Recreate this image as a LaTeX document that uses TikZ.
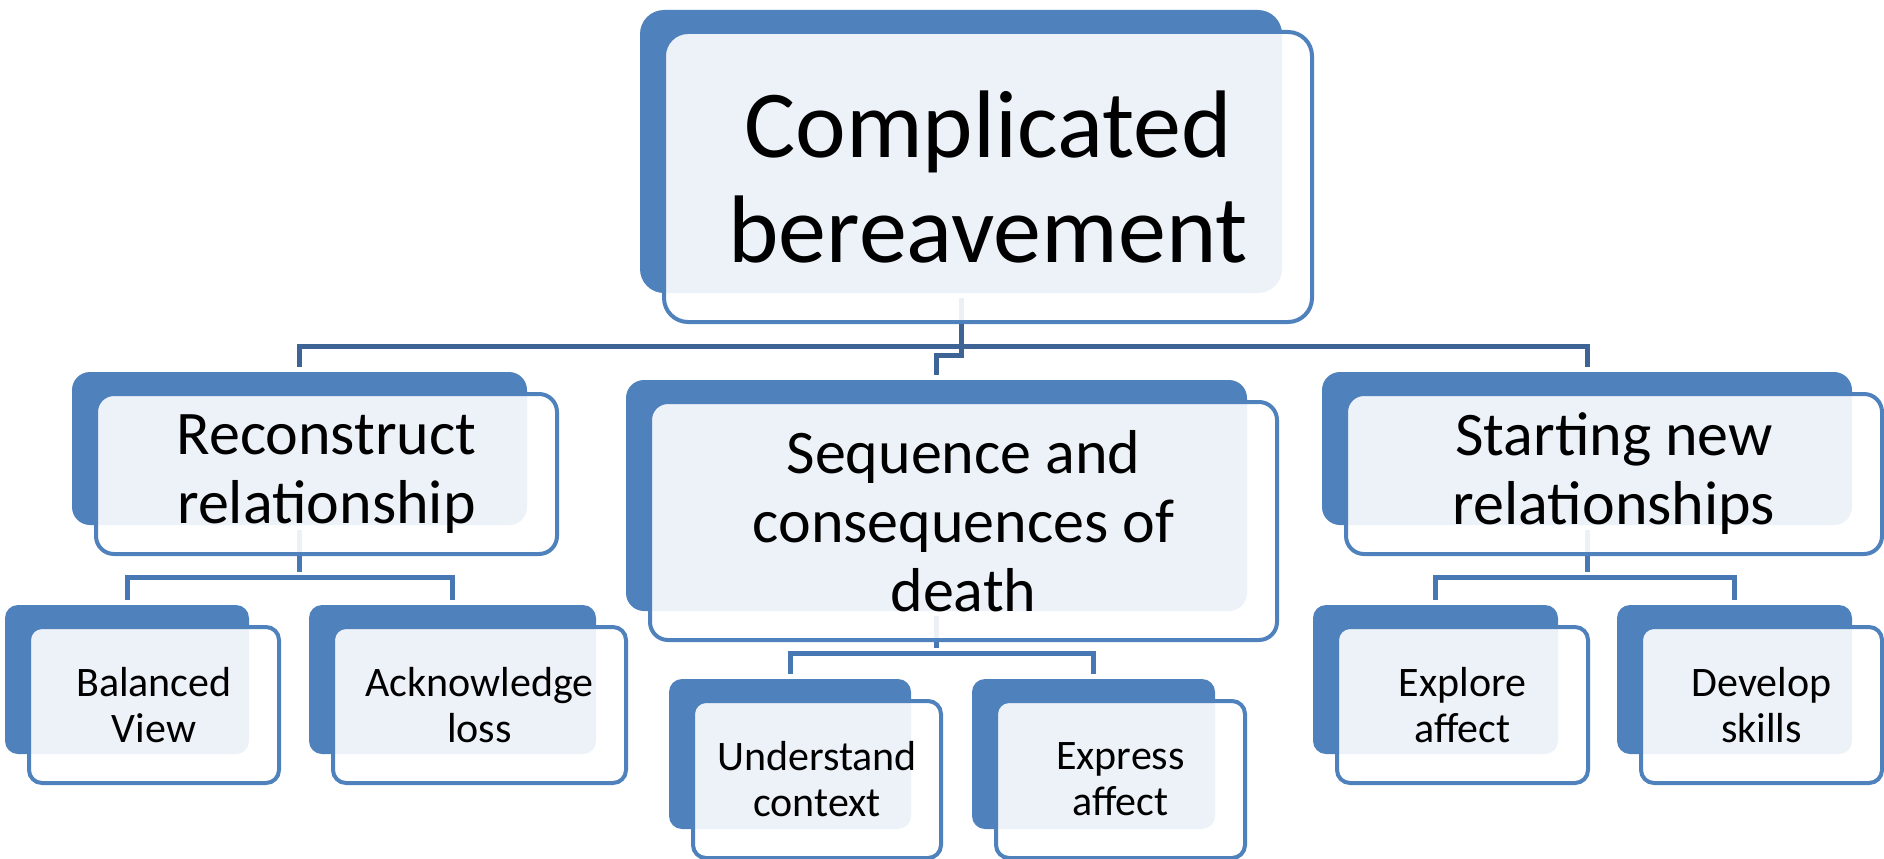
\documentclass[tikz,border=0pt]{standalone}
\usepackage{fontspec}
\setmainfont{Carlito}
\usetikzlibrary{backgrounds}

\definecolor{cardblue}{RGB}{79,129,189}
\definecolor{trunkblue}{RGB}{62,100,150}
\definecolor{linkblue}{RGB}{72,120,180}

\begin{document}
\begin{tikzpicture}[
  x=1pt, y=-1pt,
  back/.style={fill=cardblue, inner sep=0pt},
  card/.style={draw=cardblue, line width=4pt, fill=white, fill opacity=0.9, text opacity=1, align=center, inner sep=0pt},
  lvl0/.style={rounded corners=24pt, font=\fontsize{96}{105}\selectfont},
  lvl1/.style={rounded corners=18pt, font=\fontsize{62}{69}\selectfont},
  lvl2/.style={rounded corners=13pt, font=\fontsize{42}{46}\selectfont},
  trunk/.style={draw=trunkblue, line width=5pt, shorten <=5pt, shorten >=5pt},
  link/.style={draw=linkblue, line width=5pt, shorten <=5pt, shorten >=5pt}
]
\useasboundingbox (0,0) rectangle (1884,859);
% cards: blue block behind, pale framed box in front
\foreach \n/\cx/\cy/\w/\h/\lv/\txt in {
  top/988/177/648/290/lvl0/Complicated\\bereavement,
  rec/326.5/474/461/160/lvl1/Reconstruct\\relationship,
  seq/963.5/521/627/238/lvl1/Sequence and\\consequences of\\death,
  new/1614/474/536/160/lvl1/Starting new\\relationships,
  bal/154/705/250/156/lvl2/Balanced\\View,
  ack/479.5/705/293/156/lvl2/Acknowledge\\loss,
  und/817/779.5/248/157/lvl2/Understand\\context,
  exa/1120.5/779.5/249/157/lvl2/Express\\affect,
  exp/1462.5/705/251/156/lvl2/Explore\\affect,
  dev/1761.5/705/241/156/lvl2/Develop\\skills}
{
  \node[back, \lv, minimum width=(\w-6)*1pt, minimum height=(\h-7)*1pt] (\n-b) at (\cx-27, \cy-25.5) {};
  \node[card, \lv, minimum width=\w*1pt, minimum height=\h*1pt] (\n) at (\cx, \cy) {\txt};
}
% connectors go behind the cards
\begin{scope}[on background layer]
  \coordinate (bus0) at (0,346);
  \coordinate (busL) at (0,577);
  \coordinate (busM) at (0,653);
  \draw[trunk] (rec-b) -- (rec-b |- bus0) -| (new-b);
  \draw[trunk] (top-b) -- ([yshift=-9pt]top-b |- bus0) -| (seq-b);
  % second level
  \draw[link] (rec-b) -- (rec-b |- busL);
  \draw[link] (bal-b) -- (bal-b |- busL) -| (ack-b);
  \draw[link] (seq-b) -- (seq-b |- busM);
  \draw[link] (und-b) -- (und-b |- busM) -| (exa-b);
  \draw[link] (new-b) -- (new-b |- busL);
  \draw[link] (exp-b) -- (exp-b |- busL) -| (dev-b);
\end{scope}
\end{tikzpicture}
\end{document}
